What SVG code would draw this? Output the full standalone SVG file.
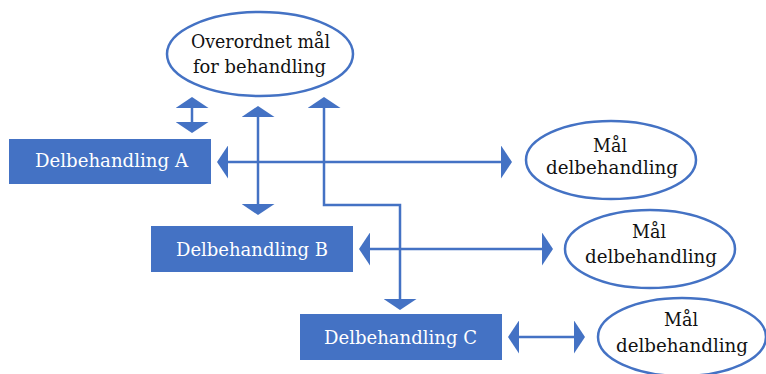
<svg xmlns="http://www.w3.org/2000/svg" width="766" height="374" viewBox="0 0 766 374">
<style>
.box{fill:#4472C4;}
.ell{fill:#ffffff;stroke:#4472C4;stroke-width:2.5;}
.con{fill:none;stroke:#4472C4;stroke-width:2.5;}
.bt{font-family:"DejaVu Serif",serif;font-size:18px;fill:#ffffff;text-anchor:middle;}
.et{font-family:"DejaVu Serif",serif;font-size:18px;fill:#111111;text-anchor:middle;}
</style>
<defs>
<marker id="ah" viewBox="0 0 11 33" refX="8" refY="16.5" markerWidth="11" markerHeight="33" markerUnits="userSpaceOnUse" orient="auto-start-reverse">
<path d="M0,0 L11,16.5 L0,33 Z" fill="#4472C4"/>
</marker>
</defs>
<rect width="766" height="374" fill="#ffffff"/>
<g id="connectors">
<line class="con" x1="192" y1="100" x2="192" y2="130" marker-start="url(#ah)" marker-end="url(#ah)"/>
<line class="con" x1="258" y1="109" x2="258" y2="212" marker-start="url(#ah)" marker-end="url(#ah)"/>
<path class="con" d="M324,100 V205 H400 V307" marker-start="url(#ah)" marker-end="url(#ah)"/>
<line class="con" x1="220" y1="162" x2="509" y2="162" marker-start="url(#ah)" marker-end="url(#ah)"/>
<line class="con" x1="362" y1="249" x2="550" y2="249" marker-start="url(#ah)" marker-end="url(#ah)"/>
<line class="con" x1="511" y1="337" x2="582" y2="337" marker-start="url(#ah)" marker-end="url(#ah)"/>
</g>
<g id="goal-main">
<ellipse class="ell" cx="260" cy="54" rx="93" ry="42"/>
<text class="et" x="260.5" y="48" textLength="139" lengthAdjust="spacingAndGlyphs">Overordnet mål</text>
<text class="et" x="259.5" y="73" textLength="133" lengthAdjust="spacingAndGlyphs">for behandling</text>
</g>
<g id="delA">
<rect class="box" x="9" y="139" width="202" height="45"/>
<text class="bt" x="111.5" y="167" textLength="153" lengthAdjust="spacingAndGlyphs">Delbehandling A</text>
</g>
<g id="delB">
<rect class="box" x="151" y="226" width="202" height="46"/>
<text class="bt" x="252" y="256" textLength="152" lengthAdjust="spacingAndGlyphs">Delbehandling B</text>
</g>
<g id="delC">
<rect class="box" x="300" y="314" width="202" height="46"/>
<text class="bt" x="400.5" y="344" textLength="153" lengthAdjust="spacingAndGlyphs">Delbehandling C</text>
</g>
<g id="goalA">
<ellipse class="ell" cx="611" cy="160" rx="85" ry="39"/>
<text class="et" x="610" y="152" textLength="34" lengthAdjust="spacingAndGlyphs">Mål</text>
<text class="et" x="612" y="174" textLength="132" lengthAdjust="spacingAndGlyphs">delbehandling</text>
</g>
<g id="goalB">
<ellipse class="ell" cx="650" cy="249" rx="85" ry="39"/>
<text class="et" x="649" y="238" textLength="34" lengthAdjust="spacingAndGlyphs">Mål</text>
<text class="et" x="651" y="263" textLength="132" lengthAdjust="spacingAndGlyphs">delbehandling</text>
</g>
<g id="goalC">
<ellipse class="ell" cx="682" cy="337" rx="84" ry="39"/>
<text class="et" x="681" y="326" textLength="34" lengthAdjust="spacingAndGlyphs">Mål</text>
<text class="et" x="682" y="352" textLength="132" lengthAdjust="spacingAndGlyphs">delbehandling</text>
</g>
</svg>
